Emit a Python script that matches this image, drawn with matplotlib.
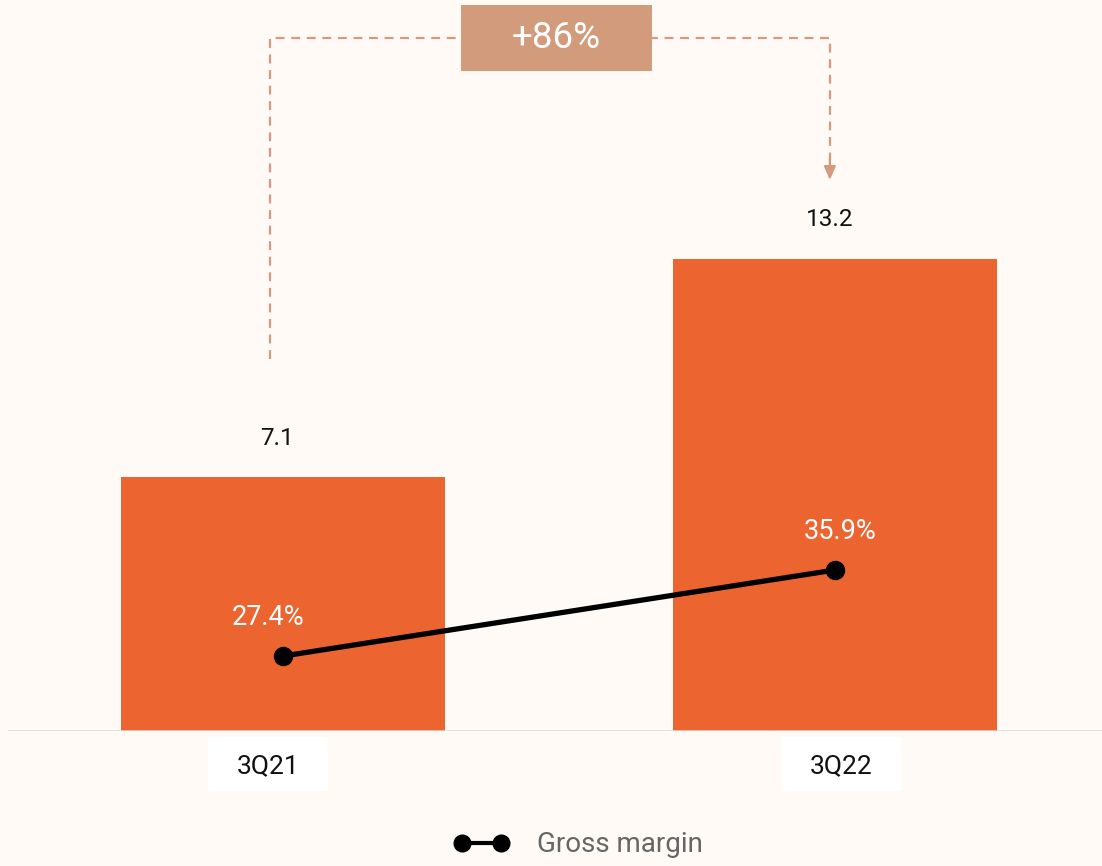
import matplotlib.pyplot as plt
from matplotlib.lines import Line2D
from matplotlib.patches import Rectangle

quarters = ["3Q21", "3Q22"]
revenue = [7.1, 13.2]
gross_margin = [27.4, 35.9]
growth_label = "+86%"

BG = "#FFFAF6"
BAR = "#EC6530"
ACCENT = "#D29B7B"

plt.rcParams["font.family"] = ["Roboto", "DejaVu Sans"]

fig = plt.figure(figsize=(11.02, 8.66), dpi=100, facecolor=BG)
ax = fig.add_axes([8 / 1102, 135 / 866, 1094 / 1102, 731 / 866])
ax.set_facecolor(BG)

x = list(range(len(quarters)))
ax.bar(x, revenue, width=0.587, color=BAR, zorder=2)
ax.set_xlim(-0.498, 1.484)
ax.set_ylim(0, 20.43)
for s in ax.spines.values():
    s.set_visible(False)
ax.axhline(0, color="#DADADA", lw=1.8, zorder=3)
ax.set_xticks([])
ax.set_yticks([])

# value labels above bars
for xi, v in zip(x, revenue):
    ax.annotate(f"{v}", (xi, v), xytext=(-4, 28), textcoords="offset points",
                ha="center", va="center", fontsize=17.5, color="#111111")

# category labels in white boxes under the baseline
for xi, q, dx in zip(x, quarters, [-0.027, 0.011]):
    ax.add_patch(Rectangle((xi + dx - 0.109, -1.68), 0.218, 1.51,
                           facecolor="white", edgecolor="none", clip_on=False))
    ax.text(xi + dx, -0.98, q, ha="center", va="center", fontsize=19,
            color="#111111")

# gross margin line on a secondary scale
ax2 = ax.twinx()
ax2.set_ylim(20, 92.2)
ax2.set_yticks([])
for s in ax2.spines.values():
    s.set_visible(False)
ax2.plot(x, gross_margin, color="black", lw=3.8, marker="o", markersize=13,
         zorder=4)
for xi, m, dx in zip(x, gross_margin, [-11, 4]):
    ax2.annotate(f"{m}%", (xi, m), xytext=(dx, 28), textcoords="offset points",
                 ha="center", va="center", fontsize=19.5, color="white")

# growth bracket between the two bars
left_x, right_x = x[0] - 0.024, x[1] - 0.009
top_y = 19.37
ax.plot([left_x, left_x, right_x, right_x],
        [revenue[0] + 3.3, top_y, top_y, revenue[1] + 2.75],
        color=ACCENT, lw=1.6, ls=(0, (4, 3)), clip_on=False, zorder=1)
ax.annotate("", xy=(right_x, revenue[1] + 2.2), xytext=(right_x, revenue[1] + 2.8),
            arrowprops=dict(arrowstyle="-|>,head_width=0.35,head_length=0.8",
                            color=ACCENT, lw=1.6, shrinkA=0, shrinkB=0))
cx = (left_x + right_x) / 2 + 0.012
ax.add_patch(Rectangle((cx - 0.173, top_y - 0.92), 0.346, 1.84,
                       facecolor=ACCENT, edgecolor="none", clip_on=False,
                       zorder=3))
ax.text(cx, top_y, growth_label, ha="center", va="center", fontsize=26.5,
        color="white", zorder=4)

handle = Line2D([], [], color="black", lw=3, marker="o", markersize=12)
fig.legend([handle], ["Gross margin"], loc="center",
           bbox_to_anchor=(578 / 1102, 1 - 845 / 866), frameon=False,
           numpoints=2, handlelength=2.0, handletextpad=1.0,
           prop={"size": 20}, labelcolor="#666666")

fig.savefig("out.png", dpi=100, facecolor=BG)
